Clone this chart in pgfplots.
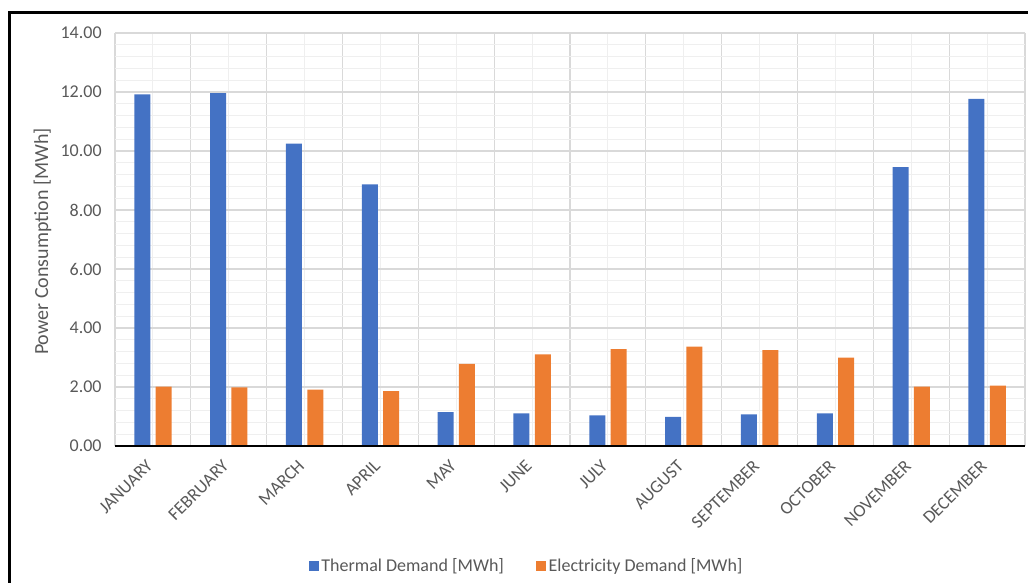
\documentclass[border=0pt]{standalone}
\usepackage{fontspec}
\setmainfont{Carlito}
\usepackage{pgfplots}
\pgfplotsset{compat=1.18}
\definecolor{thermal}{HTML}{4472C4}
\definecolor{elec}{HTML}{ED7D31}
\definecolor{txt}{HTML}{595959}
\definecolor{gridmaj}{HTML}{D9D9D9}
\definecolor{gridmin}{HTML}{EFEFEF}
\definecolor{baseline}{HTML}{C8C8C8}

% monthly demand, MWh
\pgfplotstableread{
x thermal elec
0  11.92 2.01
1  11.96 1.99
2  10.25 1.91
3  8.87  1.86
4  1.15  2.78
5  1.11  3.11
6  1.04  3.28
7  0.99  3.37
8  1.07  3.25
9  1.11  3.00
10 9.45  2.01
11 11.77 2.05
}\demand

\begin{document}
\begin{tikzpicture}[x=0.75pt,y=-0.75pt]
\useasboundingbox (0,0) rectangle (1028,582);
\clip (0,0) rectangle (1028,582);
% outer chart frame
\draw[line width=1.6pt] (9.5,640) -- (9.5,12.5) -- (1080,12.5);
\begin{axis}[
  at={(86.25pt,-334.5pt)}, anchor=south west,
  scale only axis, width=682.5pt, height=309.75pt,
  ybar=4pt, bar width=12pt,
  xmin=-0.5, xmax=11.5, ymin=0, ymax=14,
  xtick={0,...,11},
  xticklabels={JANUARY,FEBRUARY,MARCH,APRIL,MAY,JUNE,JULY,AUGUST,SEPTEMBER,OCTOBER,NOVEMBER,DECEMBER},
  minor xtick={-0.5,0.5,1.5,2.5,3.5,4.5,5.5,6.5,7.5,8.5,9.5,10.5,11.5},
  ytick={0,2,...,14},
  minor y tick num=4,
  grid=both,
  major x grid style={gridmin, line width=0.8pt},
  minor x grid style={gridmaj, line width=0.8pt},
  major y grid style={gridmaj, line width=0.8pt},
  minor y grid style={gridmin, line width=0.8pt},
  axis line style={draw=none},
  tick style={draw=none},
  ticklabel style={font=\fontsize{13.5}{16}\selectfont, text=txt},
  yticklabel style={/pgf/number format/fixed, /pgf/number format/fixed zerofill,
    /pgf/number format/precision=2, /pgf/number format/assume math mode=true},
  yticklabel shift=6.5pt,
  xticklabel style={rotate=45, anchor=east},
  xticklabel shift=6pt,
  ylabel={Power Consumption [MWh]},
  every axis y label/.style={at={(axis description cs:-0.0797,0.495)}, rotate=90, anchor=center,
    font=\fontsize{15}{18}\selectfont, text=txt},
  legend columns=2,
  legend style={at={(axis description cs:0.4527,-0.29)}, anchor=center, draw=none,
    font=\fontsize{13.5}{16}\selectfont, text=txt,
    /tikz/every even column/.append style={column sep=22pt}},
  legend image code/.code={\fill[#1] (0pt,-3.75pt) rectangle (7.5pt,3.75pt);},
]
\addplot[fill=thermal, draw=none] table[x=x, y=thermal] {\demand};
\addlegendentry{Thermal Demand [MWh]}
\addplot[fill=elec, draw=none] table[x=x, y=elec] {\demand};
\addlegendentry{Electricity Demand [MWh]}
\draw[baseline, line width=0.9pt] (axis cs:-0.5,0) -- (axis cs:11.5,0);
\end{axis}
\end{tikzpicture}
\end{document}
